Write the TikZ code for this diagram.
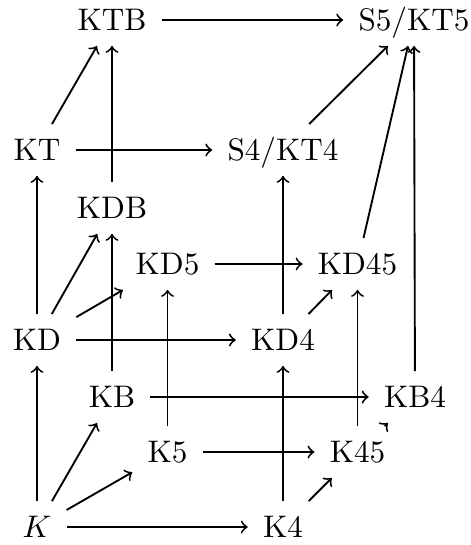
\documentclass[tikz,border=0pt]{standalone}
\begin{document}
\begin{tikzpicture}[x=0.3205pt,y=-0.3205pt,
  lg/.style={inner sep=4.7pt, text height=6.83pt, text depth=0pt},
  ar/.style={->, line width=0.6pt}]
\useasboundingbox (0,0) rectangle (471,545);
\node[lg] (K)    at (37,527)  {$K$};
\node[lg] (K4)   at (283,527) {K4};
\node[lg] (K5)   at (167.5,452) {K5};
\node[lg] (K45)  at (357.5,452) {K45};
\node[lg] (KB)   at (112,397) {KB};
\node[lg] (KB4)  at (415,397) {KB4};
\node[lg] (KD)   at (37,340)  {KD};
\node[lg] (KD4)  at (283,340) {KD4};
\node[lg] (KD5)  at (167.5,264) {KD5};
\node[lg] (KD45) at (357.5,264) {KD45};
\node[lg] (KDB)  at (112,208) {KDB};
\node[lg] (KT)   at (37,150)  {KT};
\node[lg] (S4)   at (283,150) {S4/KT4};
\node[lg] (KTB)  at (112,20)  {KTB};
\node[lg] (S5)   at (414,20)  {S5/KT5};
\draw[ar] (K) -- (K4);
\draw[ar] (K) -- (K5);
\draw[ar] (K) -- (KB);
\draw[ar] (K) -- (KD);
\draw[ar] (K4) -- (K45);
\draw[ar] (K4) -- (KD4);
\draw[ar] (K5) -- (K45);
\draw[ar] (K5) -- (KD5);
\draw[ar] (K45) -- (KB4);
\draw[ar] (K45) -- (KD45);
\draw[ar] (KB) -- (KB4);
\draw[ar] (KB) -- (KDB);
\draw[ar] (KB4) -- (S5);
\draw[ar] (KD) -- (KD4);
\draw[ar] (KD) -- (KD5);
\draw[ar] (KD) -- (KDB);
\draw[ar] (KD) -- (KT);
\draw[ar] (KD4) -- (KD45);
\draw[ar] (KD4) -- (S4);
\draw[ar] (KD5) -- (KD45);
\draw[ar] (KD45) -- (S5);
\draw[ar] (KDB) -- (KTB);
\draw[ar] (KT) -- (S4);
\draw[ar] (KT) -- (KTB);
\draw[ar] (S4) -- (S5);
\draw[ar] (KTB) -- (S5);
\end{tikzpicture}
\end{document}
